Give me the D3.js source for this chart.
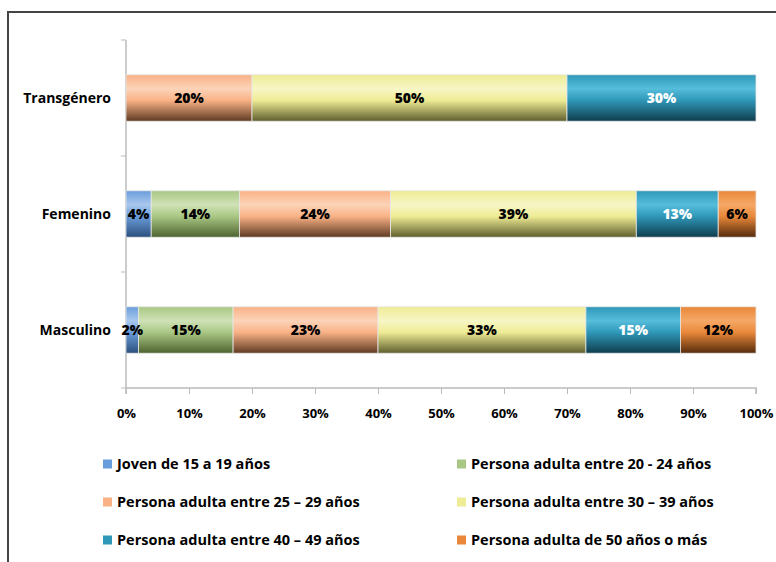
<meta charset="utf-8">
<title>Distribución por edad y sexo</title>
<script src="https://d3js.org/d3.v7.min.js"></script>
<style>
  body { margin: 0; background: #fff; }
  text { font-family: "Open Sans", Lato, sans-serif; font-weight: bold; }
</style>
<body>
<svg width="776" height="562"></svg>
<script>

  // data
  const categories = ['Transgénero', 'Femenino', 'Masculino']
  const series = [
    'Joven de 15 a 19 años',
    'Persona adulta entre 20 - 24 años',
    'Persona adulta entre 25 – 29 años',
    'Persona adulta entre 30 – 39 años',
    'Persona adulta entre 40 – 49 años',
    'Persona adulta de 50 años o más'
  ]
  const transgenero = [0, 0, 20, 50, 30, 0]
  const femenino = [4, 14, 24, 39, 13, 6]
  const masculino = [2, 15, 23, 33, 15, 12]
  const xTicks = [0, 10, 20, 30, 40, 50, 60, 70, 80, 90, 100]

  // base, light top, dark bottom, label colour
  const colors = [
    ['#6a9ddb', '#a9c8ee', '#2c4f7c', '#000'],
    ['#a9c784', '#cfe2b6', '#4e6330', '#000'],
    ['#f9b286', '#fcd3b8', '#5e3a22', '#000'],
    ['#eeec94', '#f7f6c6', '#5f5e2e', '#000'],
    ['#2f97b8', '#56bedb', '#0f3d4d', '#fff'],
    ['#e9883a', '#f5a866', '#552b0c', '#000']
  ]

  const rows = [transgenero, femenino, masculino]

  const svg = d3.select('svg')

  // frame
  svg.append('path')
    .attr('d', 'M8,562 V12 H776')
    .attr('fill', 'none')
    .attr('stroke', '#444')
    .attr('stroke-width', 2)

  const pLeft = 126, pRight = 756, pTop = 40, pBottom = 388

  const x = d3.scaleLinear().domain([0, 100]).range([pLeft, pRight])
  const y = d3.scaleBand().domain(categories).range([pTop, pBottom]).paddingInner(0.6).paddingOuter(0.3)

  // gradients
  const defs = svg.append('defs')
  colors.forEach((c, i) => {
    const g = defs.append('linearGradient')
      .attr('id', 'g' + i)
      .attr('x1', 0).attr('y1', 0).attr('x2', 0).attr('y2', 1)
    g.append('stop').attr('offset', '0%').attr('stop-color', c[0])
    g.append('stop').attr('offset', '30%').attr('stop-color', c[1])
    g.append('stop').attr('offset', '55%').attr('stop-color', c[0])
    g.append('stop').attr('offset', '100%').attr('stop-color', c[2])
  })

  // axes
  const gy = svg.append('g').attr('transform', `translate(${pLeft},0)`)
  gy.append('line').attr('y1', pTop).attr('y2', pBottom).attr('stroke', '#bbb').attr('stroke-width', 1.5)
  d3.range(0, categories.length + 1).forEach(i => {
    const ty = pTop + (pBottom - pTop) / categories.length * i
    gy.append('line').attr('x1', -5).attr('x2', 0).attr('y1', ty).attr('y2', ty).attr('stroke', '#bbb')
  })

  const xAxis = svg.append('g')
    .attr('transform', `translate(0,${pBottom})`)
    .call(d3.axisBottom(x).tickValues(xTicks).tickFormat(d => d + '%').tickSize(6).tickPadding(15))
  xAxis.select('.domain').attr('stroke', '#bbb').attr('stroke-width', 1.5).attr('d', `M${pLeft},6V0H${pRight}V6`)
  xAxis.selectAll('.tick line').attr('stroke', '#bbb')
  xAxis.selectAll('.tick text').attr('font-size', 13).attr('fill', '#000')
    .style('font-family', '"Open Sans", sans-serif').style('font-weight', 'bold')

  // category labels
  svg.append('g').selectAll('text')
    .data(categories)
    .join('text')
    .attr('x', 111)
    .attr('y', d => y(d) + y.bandwidth() / 2)
    .attr('dy', '0.35em')
    .attr('text-anchor', 'end')
    .attr('font-size', 14)
    .text(d => d)

  // bars
  rows.forEach((vals, r) => {
    let acc = 0
    const segs = vals.map((v, i) => {
      const s = { i, v, x0: acc, x1: acc + v }
      acc += v
      return s
    }).filter(s => s.v > 0)

    const g = svg.append('g')
    g.selectAll('rect')
      .data(segs)
      .join('rect')
      .attr('x', s => x(s.x0))
      .attr('y', y(categories[r]))
      .attr('width', s => x(s.x1) - x(s.x0))
      .attr('height', y.bandwidth())
      .attr('fill', s => `url(#g${s.i})`)
      .attr('stroke', '#e6e6e6')
      .attr('stroke-width', 0.8)

    g.selectAll('text')
      .data(segs)
      .join('text')
      .attr('x', s => (x(s.x0) + x(s.x1)) / 2)
      .attr('y', y(categories[r]) + y.bandwidth() / 2)
      .attr('dy', '0.35em')
      .attr('text-anchor', 'middle')
      .attr('font-size', 14)
      .style('font-weight', 800)
      .attr('fill', s => colors[s.i][3])
      .text(s => s.v + '%')
  })

  // legend
  const legend = svg.append('g')
  const legX = [103, 457], legY = [464, 502, 540]
  series.forEach((name, i) => {
    const lx = legX[i % 2], ly = legY[Math.floor(i / 2)]
    legend.append('rect')
      .attr('x', lx).attr('y', ly - 4.5)
      .attr('width', 9).attr('height', 9)
      .attr('fill', colors[i][0])
    legend.append('text')
      .attr('x', lx + 14).attr('y', ly)
      .attr('dy', '0.35em')
      .attr('font-size', 14.5)
      .text(name)
  })

</script>
</body>
